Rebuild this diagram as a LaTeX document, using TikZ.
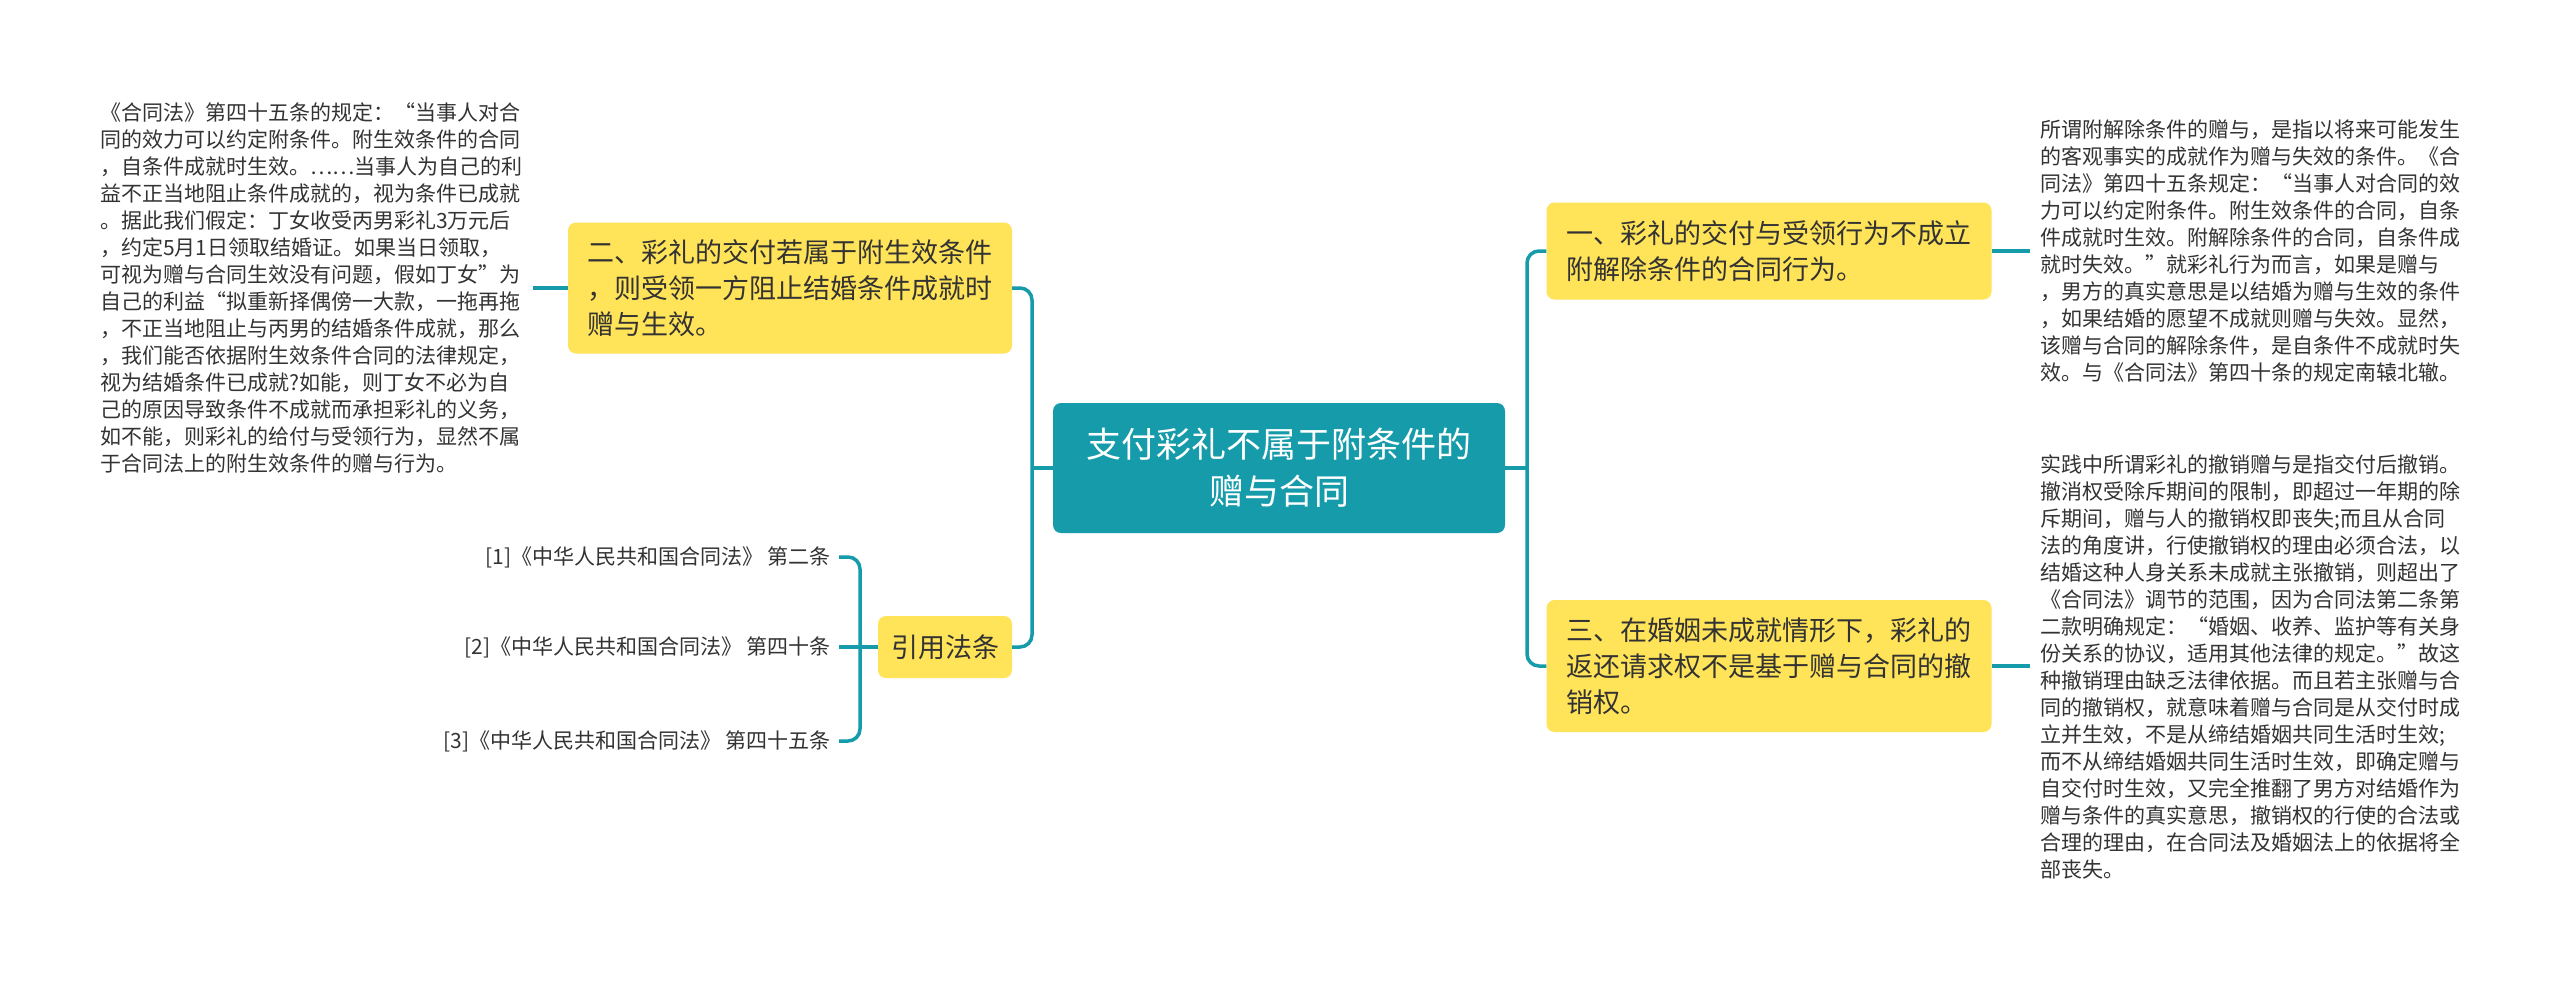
\documentclass[tikz,border=0pt]{standalone}
\usepackage{fontspec}
\newfontfamily\cjk{Noto Sans CJK SC}
\usetikzlibrary{calc}
\definecolor{teal1}{RGB}{22,155,170}
\definecolor{yel}{RGB}{255,227,88}
\definecolor{txt}{RGB}{51,51,51}
\begin{document}
\begin{tikzpicture}[x=1pt,y=-1pt,
  conn/.style={draw=teal1, line width=3.5pt},
  ybox/.style={fill=yel, rounded corners=8pt, text=txt, align=left, inner sep=0pt,
    font=\cjk\fontsize{27}{36}\selectfont},
  cbox/.style={fill=teal1, rounded corners=8pt, text=white, align=center, inner sep=0pt,
    font=\cjk\fontsize{35}{47}\selectfont},
  note/.style={text=txt, align=left, inner xsep=10pt, inner ysep=0pt,
    font=\cjk\fontsize{21}{27}\selectfont},
  refn/.style={text=txt, inner xsep=8pt, inner ysep=0pt, anchor=east,
    font=\cjk\fontsize{21}{27}\selectfont}
]
\useasboundingbox (0,0) rectangle (2560,983);
\fill[white] (0,0) rectangle (2560,983);

% central
\node[cbox, minimum width=452pt, minimum height=130pt] (c) at (1279,468)
  {支付彩礼不属于附条件的\\赠与合同};

% left branches
\node[ybox, minimum width=444pt, minimum height=131pt] (n2) at (790,288)
  {二、彩礼的交付若属于附生效条件\\，则受领一方阻止结婚条件成就时\\赠与生效。};
\node[ybox, minimum width=134pt, minimum height=62pt, align=center] (yy) at (945,647)
  {引用法条};

% right branches
\node[ybox, minimum width=445pt, minimum height=97pt] (n1) at (1769,251)
  {一、彩礼的交付与受领行为不成立\\附解除条件的合同行为。};
\node[ybox, minimum width=445pt, minimum height=132pt] (n3) at (1769,666)
  {三、在婚姻未成就情形下，彩礼的\\返还请求权不是基于赠与合同的撤\\销权。};

% left note
\node[note, anchor=west] (lt) at (90,288)
  {《合同法》第四十五条的规定：“当事人对合\\
   同的效力可以约定附条件。附生效条件的合同\\
   ，自条件成就时生效。……当事人为自己的利\\
   益不正当地阻止条件成就的，视为条件已成就\\
   。据此我们假定：丁女收受丙男彩礼3万元后\\
   ，约定5月1日领取结婚证。如果当日领取，\\
   可视为赠与合同生效没有问题，假如丁女”为\\
   自己的利益“拟重新择偶傍一大款，一拖再拖\\
   ，不正当地阻止与丙男的结婚条件成就，那么\\
   ，我们能否依据附生效条件合同的法律规定，\\
   视为结婚条件已成就?如能，则丁女不必为自\\
   己的原因导致条件不成就而承担彩礼的义务，\\
   如不能，则彩礼的给付与受领行为，显然不属\\
   于合同法上的附生效条件的赠与行为。};

% right notes
\node[note, anchor=west] (rt1) at (2030,251)
  {所谓附解除条件的赠与，是指以将来可能发生\\
   的客观事实的成就作为赠与失效的条件。《合\\
   同法》第四十五条规定：“当事人对合同的效\\
   力可以约定附条件。附生效条件的合同，自条\\
   件成就时生效。附解除条件的合同，自条件成\\
   就时失效。”就彩礼行为而言，如果是赠与\\
   ，男方的真实意思是以结婚为赠与生效的条件\\
   ，如果结婚的愿望不成就则赠与失效。显然，\\
   该赠与合同的解除条件，是自条件不成就时失\\
   效。与《合同法》第四十条的规定南辕北辙。};
\node[note, anchor=west] (rt2) at (2030,667)
  {实践中所谓彩礼的撤销赠与是指交付后撤销。\\
   撤消权受除斥期间的限制，即超过一年期的除\\
   斥期间，赠与人的撤销权即丧失;而且从合同\\
   法的角度讲，行使撤销权的理由必须合法，以\\
   结婚这种人身关系未成就主张撤销，则超出了\\
   《合同法》调节的范围，因为合同法第二条第\\
   二款明确规定：“婚姻、收养、监护等有关身\\
   份关系的协议，适用其他法律的规定。”故这\\
   种撤销理由缺乏法律依据。而且若主张赠与合\\
   同的撤销权，就意味着赠与合同是从交付时成\\
   立并生效，不是从缔结婚姻共同生活时生效;\\
   而不从缔结婚姻共同生活时生效，即确定赠与\\
   自交付时生效，又完全推翻了男方对结婚作为\\
   赠与条件的真实意思，撤销权的行使的合法或\\
   合理的理由，在合同法及婚姻法上的依据将全\\
   部丧失。};

% references
\node[refn] (r1) at (839,557) {[1]《中华人民共和国合同法》 第二条};
\node[refn] (r2) at (839,647) {[2]《中华人民共和国合同法》 第四十条};
\node[refn] (r3) at (839,741) {[3]《中华人民共和国合同法》 第四十五条};

% connectors
\coordinate (jl) at (1032,468);
\coordinate (jr) at (1527,468);
\coordinate (jf) at (860,647);
\draw[conn] (c.west) -- (jl);
\draw[conn, rounded corners=12pt] (jl) |- (n2.east);
\draw[conn, rounded corners=12pt] (jl) |- (yy.east);
\draw[conn] (c.east) -- (jr);
\draw[conn, rounded corners=12pt] (jr) |- (n1.west);
\draw[conn, rounded corners=12pt] (jr) |- (n3.west);
\draw[conn] (n2.west) -- (lt.east |- n2.west);
\draw[conn] (n1.east) -- (rt1.west |- n1.east);
\draw[conn] (n3.east) -- (rt2.west |- n3.east);
\draw[conn] (yy.west) -- (jf);
\draw[conn, rounded corners=12pt] (jf) |- (r1.east);
\draw[conn] (jf) -- (r2.east);
\draw[conn, rounded corners=12pt] (jf) |- (r3.east);
\end{tikzpicture}
\end{document}
